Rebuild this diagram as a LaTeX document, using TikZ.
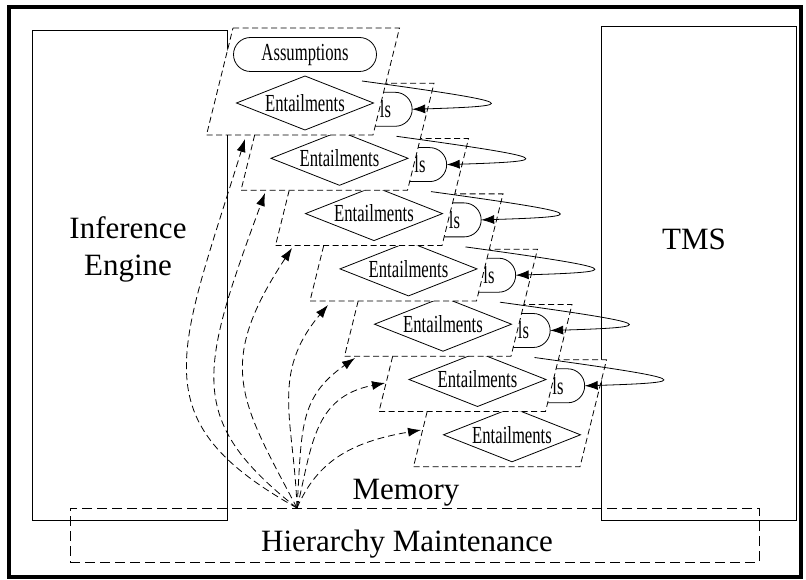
\documentclass[tikz,border=0pt]{standalone}
\usepackage{fontspec}
\setmainfont{Liberation Serif}
\newfontfamily\narrowfont[FakeStretch=0.68]{Liberation Serif}
\usetikzlibrary{shapes.geometric,shapes.misc,arrows.meta,calc}
\tikzset{
  big/.style={font=\fontsize{31}{36}\selectfont, inner sep=0pt},
  small/.style={font=\narrowfont\fontsize{24.5}{28}\selectfont},
  pbox/.style={draw, fill=white, dash pattern=on 6pt off 3.5pt, line width=0.8pt},
  ent/.style={diamond, draw, fill=white, aspect=2.5, inner sep=0pt, outer sep=0pt,
    minimum width=137pt, minimum height=54pt, small, line width=0.8pt},
  assum/.style={rounded rectangle, draw, fill=white, minimum width=143pt,
    minimum height=34pt, inner sep=0pt, small, line width=0.8pt},
  gate/.style={rounded rectangle, rounded rectangle west arc=none, draw, fill=white,
    minimum width=51pt, minimum height=34pt, inner sep=0pt, outer sep=0pt, small, line width=0.8pt},
  fb/.style={draw, -{Latex[length=13pt,width=9pt]}, line width=0.8pt},
  fan/.style={draw, dash pattern=on 7pt off 4pt, -{Latex[length=13pt,width=9pt]}, line width=0.8pt},
  box/.style={draw, line width=0.9pt, inner sep=0pt},
}
\begin{document}
\begin{tikzpicture}[x=1pt,y=-1pt]
\useasboundingbox (0,0) rectangle (806,580);
\fill[white] (0,0) rectangle (806,580);
\draw[line width=4pt] (9,7) rectangle (801,577);
% big boxes
\node[box, minimum width=195pt, minimum height=490pt] (ie) at (129.5,275) {};
\node[box, minimum width=195pt, minimum height=494pt] (tms) at (698.5,273) {};
\node[big, anchor=base] (ie1) at (128,239) {Inference};
\node[big, anchor=base] (ie2) at (128,276) {Engine};
\node[big, anchor=base] (tmslabel) at (694,250) {TMS};
\node[draw, dash pattern=on 10pt off 5pt, minimum width=689pt, minimum height=54pt,
  inner sep=0pt, line width=0.8pt] (hm) at (414.5,535) {};
\node[big, anchor=base] (hmlabel) at (407,551) {Hierarchy Maintenance};
\node[big, anchor=base] (mem) at (406,499) {Memory};
% stacked parallelograms, last one drawn first
\foreach \i in {6,5,...,0}{
  \pgfmathtruncatemacro\j{\i-1}
  \begin{scope}[shift={(\i*34.5,\i*55.3)}]
    \draw[pbox] (233,28) -- (399.5,28) -- (373,135) -- (206.5,135) -- cycle;
    \node[ent] (e\i) at (305,103) {Entailments};
    \ifnum\i>0
      \node[gate] (d\j) at (351,54) {ls};
      \coordinate (s\j) at (327.5,25.7);
    \fi
  \end{scope}
}
\node[assum] (assume) at (305,54.5) {Assumptions};
% feedback loops
\foreach \i in {0,...,5}{
  \draw[fb] (s\i) .. controls +(160,22) and +(110,-3.4) .. (d\i.east);
}
% fan of dashed arrows
\coordinate (src) at (297,508);
\coordinate (t1) at (245,139);
\coordinate (t2) at (265,193);
\coordinate (t3) at (292,248);
\coordinate (t4) at (328,305);
\coordinate (t5) at (355,358);
\coordinate (t6) at (385,383);
\coordinate (t7) at (421,430);
\draw[fan] (src) .. controls (140,420) and (178,355) .. (t1);
\draw[fan] (src) .. controls (185,420) and (200,370) .. (t2);
\draw[fan] (src) .. controls (240,400) and (215,365) .. (t3);
\draw[fan] (src) .. controls (294,420) and (270,374) .. (t4);
\draw[fan] (src) .. controls (302,430) and (298,398) .. (t5);
\draw[fan] (src) .. controls (312,447) and (313,397) .. (t6);
\draw[fan] (src) .. controls (317,462) and (350,442) .. (t7);
\end{tikzpicture}
\end{document}
